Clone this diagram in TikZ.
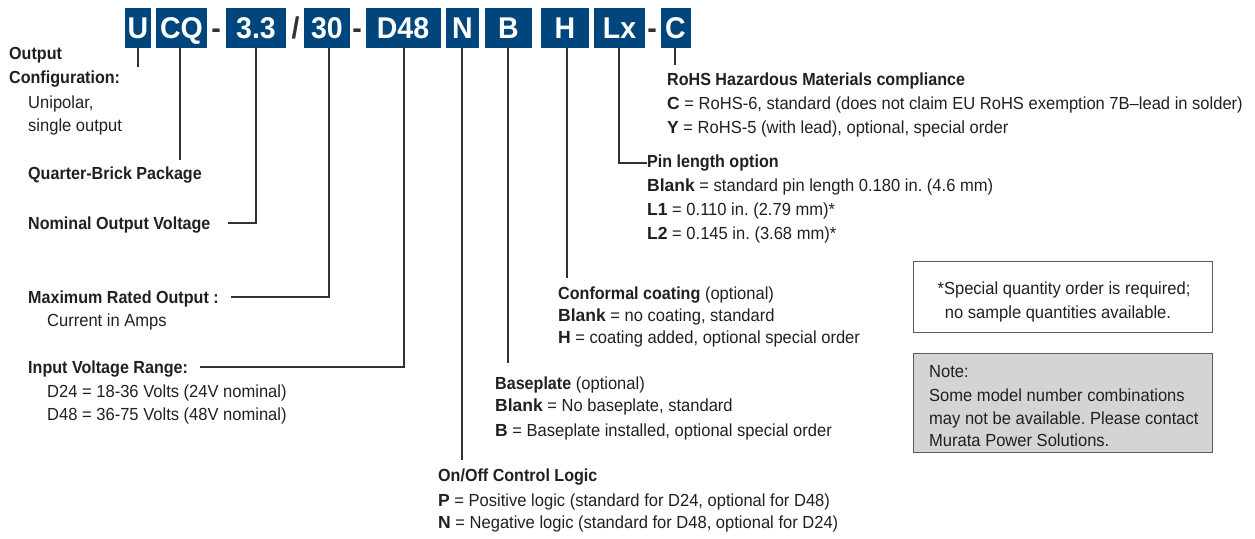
\documentclass[tikz,border=0pt]{standalone}
\usepackage{fontspec}
\setmainfont{Liberation Sans}[FakeStretch=0.945, BoldFeatures={FakeStretch=0.92}]
\newfontfamily\keyfont{Liberation Sans}
\newfontfamily\boxfont{Liberation Sans}[FakeStretch=0.95]
\definecolor{mblue}{RGB}{0,70,125}
\definecolor{txt}{RGB}{35,31,32}
\definecolor{conn}{RGB}{50,50,50}
\definecolor{notegray}{RGB}{212,212,214}
\newcommand{\ky}[1]{{\keyfont\bfseries #1}}
\frenchspacing
\tikzset{
  pbox/.style={fill=mblue, text=white, font=\boxfont\bfseries\fontsize{30}{30}\selectfont,
    inner sep=0pt, minimum height=40pt, text height=21.5pt, text depth=0pt, anchor=center},
  sepch/.style={text=conn, font=\boxfont\bfseries\fontsize{30}{30}\selectfont, inner sep=0pt,
    text height=21.5pt, text depth=0pt, anchor=center},
  lbl/.style={anchor=base west, inner sep=0pt, text=txt, font=\frenchspacing\fontsize{17.5}{21}\selectfont},
  clbl/.style={lbl, anchor=base},
  cline/.style={draw=conn, line width=1.3pt},
  notebox/.style={draw=conn!80, line width=1pt, minimum width=299pt, inner sep=0pt}
}
\begin{document}
\begin{tikzpicture}[x=1pt,y=-1pt]
\useasboundingbox (0,0) rectangle (1255,538);
% --- part number boxes ---
\node[pbox, minimum width=26pt] (bU) at (138,28) {U};
\node[pbox, minimum width=51pt] (bCQ) at (181.5,28) {CQ};
\node[sepch] (s1) at (216,28) {-};
\node[pbox, minimum width=60pt] (b33) at (256,28) {3.3};
\node[sepch] (s2) at (295.5,28) {/};
\node[pbox, minimum width=46pt] (b30) at (327,28) {30};
\node[sepch] (s3) at (357,28) {-};
\node[pbox, minimum width=75pt] (bD48) at (403,28) {D48};
\node[pbox, minimum width=33pt] (bN) at (462.5,28) {N};
\node[pbox, minimum width=47pt] (bB) at (508.5,28) {B};
\node[pbox, minimum width=48pt] (bH) at (565,28) {H};
\node[pbox, minimum width=51pt] (bLx) at (619.5,28) {Lx};
\node[sepch] (s4) at (652,28) {-};
\node[pbox, minimum width=30pt] (bC) at (675.5,28) {C};
% --- left labels ---
\node[lbl] (tOut1) at (9,59) {\textbf{Output}};
\node[lbl] (tOut2) at (9,83) {\textbf{Configuration:}};
\node[lbl] (tOut3) at (28,108) {Unipolar,};
\node[lbl] (tOut4) at (28,131) {single output};
\node[lbl] (tQB) at (28,179) {\textbf{Quarter-Brick Package}};
\node[lbl] (tNom) at (28,229) {\textbf{Nominal Output Voltage}};
\node[lbl] (tMax) at (28,303) {\textbf{Maximum Rated Output :}};
\node[lbl] (tMax2) at (47,326) {Current in Amps};
\node[lbl] (tInp) at (28,373) {\textbf{Input Voltage Range:}};
\node[lbl] (tInp2) at (47,397) {D24 = 18-36 Volts (24V nominal)};
\node[lbl] (tInp3) at (47,420) {D48 = 36-75 Volts (48V nominal)};
% --- bottom labels ---
\node[lbl] (tOn) at (438,481) {\textbf{On/Off Control Logic}};
\node[lbl] (tOn2) at (438,506) {\ky{P} = Positive logic (standard for D24, optional for D48)};
\node[lbl] (tOn3) at (438,528) {\ky{N} = Negative logic (standard for D48, optional for D24)};
\node[lbl] (tBase) at (495,389) {\textbf{Baseplate} (optional)};
\node[lbl] (tBase2) at (495,411) {\ky{Blank} = No baseplate, standard};
\node[lbl] (tBase3) at (495,436) {\ky{B} = Baseplate installed, optional special order};
\node[lbl] (tCoat) at (558,299) {\textbf{Conformal coating} (optional)};
\node[lbl] (tCoat2) at (558,321) {\ky{Blank} = no coating, standard};
\node[lbl] (tCoat3) at (558,343) {\ky{H} = coating added, optional special order};
\node[lbl] (tPin) at (647,167) {\textbf{Pin length option}};
\node[lbl] (tPin2) at (647,191) {\ky{Blank} = standard pin length 0.180 in. (4.6 mm)};
\node[lbl] (tPin3) at (647,215) {\ky{L1} = 0.110 in. (2.79 mm)*};
\node[lbl] (tPin4) at (647,239) {\ky{L2} = 0.145 in. (3.68 mm)*};
\node[lbl] (tRoHS) at (667,85) {\textbf{RoHS Hazardous Materials compliance}};
\node[lbl] (tRoHS2) at (667,109) {\ky{C} = RoHS-6, standard (does not claim EU RoHS exemption 7B–lead in solder)};
\node[lbl] (tRoHS3) at (667,133) {\ky{Y} = RoHS-5 (with lead), optional, special order};
% --- note boxes ---
\node[notebox, minimum height=71pt] (nSpec) at (1062.5,296.5) {};
\node[clbl] (nSpec1) at (1064,294) {*Special quantity order is required;};
\node[clbl] (nSpec2) at (1058,318) {no sample quantities available.};
\node[notebox, fill=notegray, minimum height=99pt] (nNote) at (1062.5,402.5) {};
\node[lbl] (nNote1) at (929,377) {Note:};
\node[lbl] (nNote2) at (929,401) {Some model number combinations};
\node[lbl] (nNote3) at (929,424) {may not be available. Please contact};
\node[lbl] (nNote4) at (929,446) {Murata Power Solutions.};
% --- connector end points ---
\coordinate (eU) at (138,67);
\coordinate (eCQ) at (180,160);
\coordinate (e33) at (228,223);
\coordinate (e30) at (231,297);
\coordinate (eD48) at (200,367);
\coordinate (eN) at (462,460);
\coordinate (eB) at (508,363);
\coordinate (eH) at (567,278);
\coordinate (eLx) at (647,163);
\coordinate (eC) at (675,65);
% --- connectors ---
\draw[cline] (bU.south) -- (eU);
\draw[cline] (bCQ.south -| eCQ) -- (eCQ);
\draw[cline] (b33.south) |- (e33);
\draw[cline] ([xshift=2pt]b30.south) |- (e30);
\draw[cline] ([xshift=1pt]bD48.south) |- (eD48);
\draw[cline] (bN.south -| eN) -- (eN);
\draw[cline] (bB.south -| eB) -- (eB);
\draw[cline] (bH.south -| eH) -- (eH);
\draw[cline] ([xshift=-0.5pt]bLx.south) |- (eLx);
\draw[cline] (bC.south -| eC) -- (eC);
\end{tikzpicture}
\end{document}
